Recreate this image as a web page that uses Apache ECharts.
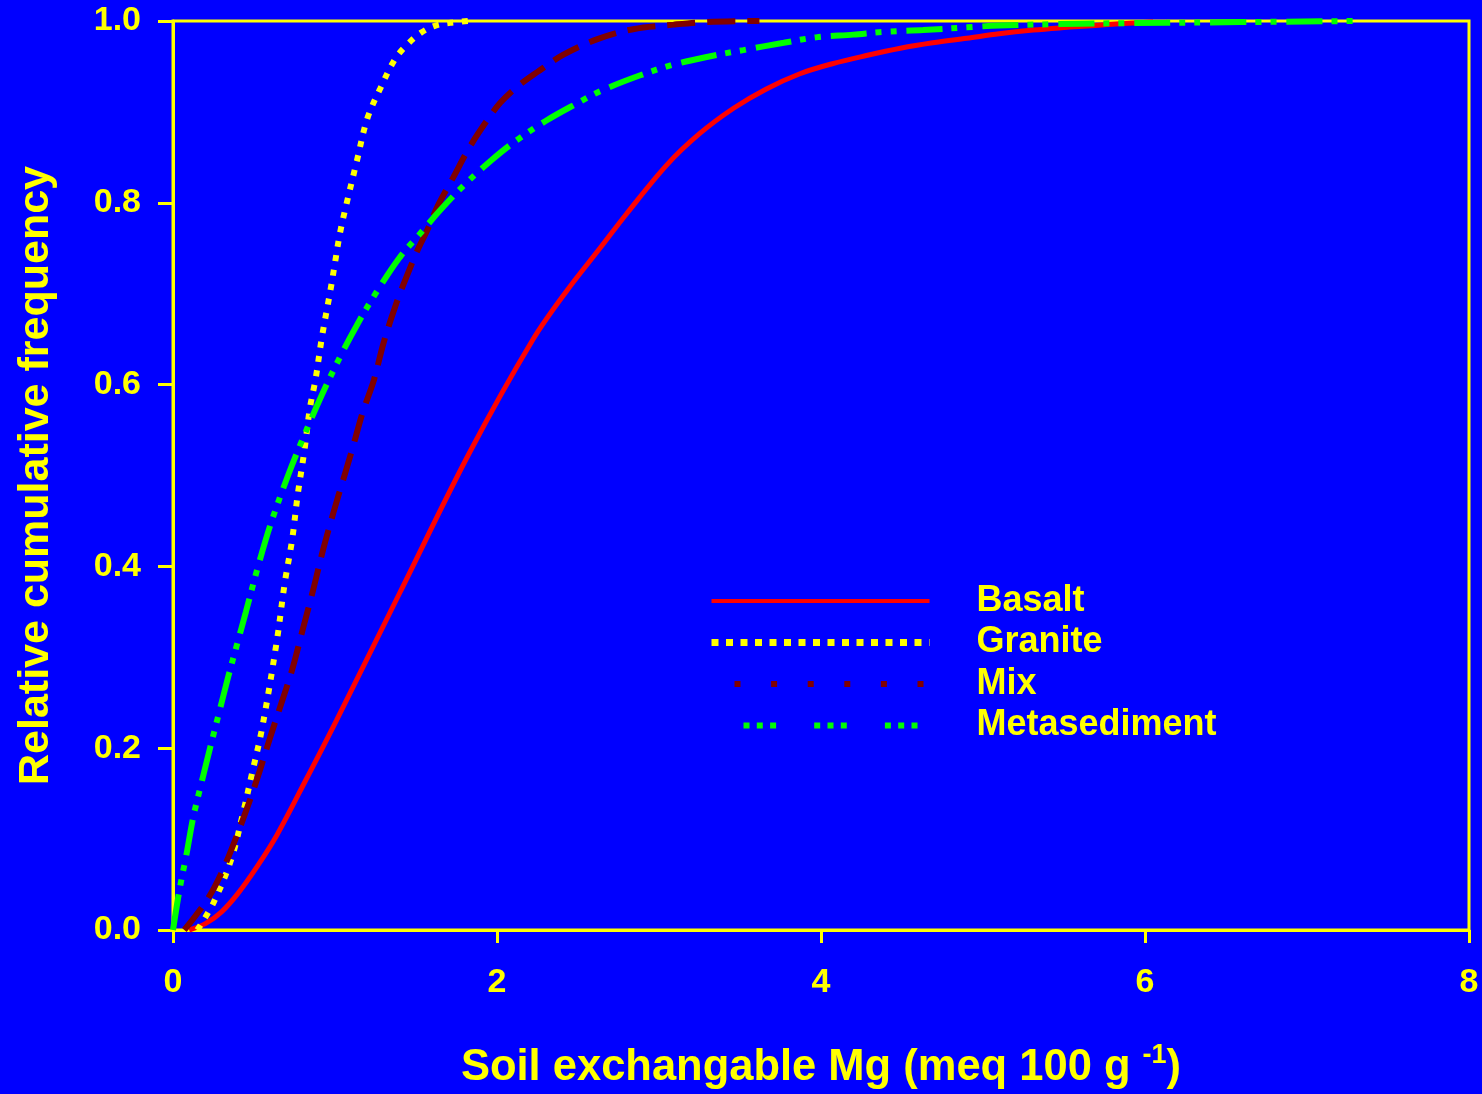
<!DOCTYPE html>
<html>
<head>
<meta charset="utf-8">
<script src="https://cdn.jsdelivr.net/npm/echarts@6/dist/echarts.min.js"></script>
<style>
html,body{margin:0;padding:0;background:#0000ff;}
#chart{width:1482px;height:1094px;}
</style>
</head>
<body>
<div id="chart"></div>
<script>
// ---- data ----
const seriesNames = ['Basalt', 'Granite', 'Mix', 'Metasediment'];

const basaltX = [0.1, 0.2, 0.3, 0.4, 0.52, 0.64, 0.82, 1.01, 1.40, 1.83, 2.22, 2.43, 2.64, 2.80, 3.05, 3.25, 3.46, 3.66, 3.87, 4.07, 4.28, 4.49, 4.69, 4.90, 5.10, 5.31, 5.52, 5.75, 6.05];
const basaltY = [0, 0.007, 0.02, 0.04, 0.07, 0.104, 0.165, 0.231, 0.371, 0.525, 0.649, 0.703, 0.751, 0.788, 0.842, 0.876, 0.904, 0.925, 0.942, 0.953, 0.962, 0.970, 0.976, 0.981, 0.986, 0.990, 0.993, 0.996, 0.999];

const graniteX = [0.15, 0.25, 0.36, 0.43, 0.49, 0.55, 0.64, 0.69, 0.735, 0.77, 0.81, 0.845, 0.88, 0.92, 0.97, 1.0, 1.03, 1.07, 1.135, 1.20, 1.28, 1.37, 1.44, 1.53, 1.62, 1.71, 1.82];
const graniteY = [0, 0.03, 0.078, 0.127, 0.174, 0.222, 0.317, 0.382, 0.429, 0.479, 0.526, 0.574, 0.606, 0.653, 0.702, 0.734, 0.766, 0.798, 0.846, 0.893, 0.926, 0.958, 0.973, 0.987, 0.995, 0.998, 1.0];

const mixX = [0.07, 0.21, 0.30, 0.39, 0.475, 0.537, 0.60, 0.67, 0.735, 0.80, 0.865, 0.926, 0.99, 1.05, 1.11, 1.17, 1.24, 1.30, 1.38, 1.44, 1.51, 1.57, 1.63, 1.73, 1.83, 1.94, 2.02, 2.12, 2.25, 2.41, 2.62, 2.84, 3.09, 3.30, 3.62];
const mixY = [0, 0.033, 0.063, 0.102, 0.143, 0.176, 0.212, 0.25, 0.286, 0.33, 0.374, 0.418, 0.459, 0.495, 0.531, 0.569, 0.605, 0.646, 0.69, 0.718, 0.748, 0.77, 0.795, 0.828, 0.861, 0.891, 0.91, 0.927, 0.944, 0.963, 0.980, 0.991, 0.996, 0.999, 1.0];

const metaX = [0, 0.04, 0.085, 0.125, 0.18, 0.23, 0.28, 0.34, 0.395, 0.45, 0.525, 0.60, 0.71, 0.80, 0.92, 1.03, 1.14, 1.25, 1.40, 1.52, 1.65, 1.80, 1.96, 2.10, 2.30, 2.50, 2.64, 2.88, 3.09, 3.31, 3.52, 3.77, 3.97, 4.20, 4.38, 4.63, 4.90, 5.10, 5.60, 6.13, 7.30];
const metaY = [0, 0.044, 0.085, 0.124, 0.165, 0.201, 0.236, 0.278, 0.314, 0.35, 0.40, 0.445, 0.50, 0.54, 0.589, 0.63, 0.667, 0.70, 0.74, 0.765, 0.792, 0.82, 0.846, 0.866, 0.89, 0.91, 0.923, 0.94, 0.952, 0.961, 0.968, 0.976, 0.982, 0.985, 0.988, 0.990, 0.993, 0.995, 0.997, 0.998, 1.0];

const xTicks = [0, 2, 4, 6, 8];
const yTicks = [0, 0.2, 0.4, 0.6, 0.8, 1.0];
const xTitle = 'Soil exchangable Mg (meq 100 g ';
const xTitleSup = '-1';
const yTitle = 'Relative cumulative frequency';

// ---- build ----
function zip(xs, ys) { return xs.map((x, i) => [x, ys[i]]); }

const YEL = '#ffff00';
const FONT = "'Liberation Sans', Arial, sans-serif";
const HIDDEN_SYMBOL = {color: 'rgba(0,0,0,0)', borderWidth: 0, opacity: 0};

const chart = echarts.init(document.getElementById('chart'), null, {renderer: 'canvas'});

const option = {
  backgroundColor: '#0000ff',
  animation: false,
  grid: {
    left: 173, top: 21, right: 13, bottom: 164,
    outerBoundsMode: 'none', containLabel: false,
    show: true, borderColor: YEL, borderWidth: 3, backgroundColor: 'transparent'
  },
  xAxis: {
    type: 'value', min: xTicks[0], max: xTicks[xTicks.length - 1], interval: xTicks[1] - xTicks[0],
    axisLine: {show: true, lineStyle: {color: YEL, width: 3}},
    axisTick: {show: true, inside: false, length: 13, lineStyle: {color: YEL, width: 3}},
    axisLabel: {color: YEL, fontSize: 34, fontWeight: 'bold', fontFamily: FONT, margin: 36},
    splitLine: {show: false},
    name: '{t|' + xTitle + '}{s|' + xTitleSup + '}{t|)}',
    nameLocation: 'middle',
    nameGap: 112,
    nameTextStyle: {
      rich: {
        t: {color: YEL, fontSize: 43.5, fontWeight: 'bold', fontFamily: FONT, lineHeight: 48, verticalAlign: 'bottom'},
        s: {color: YEL, fontSize: 27, fontWeight: 'bold', fontFamily: FONT, lineHeight: 44, verticalAlign: 'top'}
      }
    }
  },
  yAxis: {
    type: 'value', min: yTicks[0], max: yTicks[yTicks.length - 1], interval: 0.2,
    axisLine: {show: true, lineStyle: {color: YEL, width: 3}},
    axisTick: {show: true, inside: false, length: 15, lineStyle: {color: YEL, width: 3}},
    axisLabel: {color: YEL, fontSize: 34, fontWeight: 'bold', fontFamily: FONT, margin: 32,
      formatter: v => v.toFixed(1)},
    splitLine: {show: false},
    name: yTitle,
    nameLocation: 'middle',
    nameGap: 115,
    nameTextStyle: {color: YEL, fontSize: 43, fontWeight: 'bold', fontFamily: FONT}
  },
  legend: {
    orient: 'vertical',
    left: 708, top: 580,
    padding: 0,
    itemWidth: 218, itemHeight: 14, itemGap: -0.5,
    selectedMode: false,
    itemStyle: HIDDEN_SYMBOL,
    textStyle: {color: YEL, fontSize: 36, fontWeight: 'bold', fontFamily: FONT, lineHeight: 28, padding: [14, 0, 0, 42]},
    data: [
      {name: seriesNames[0], itemStyle: HIDDEN_SYMBOL, lineStyle: {color: '#ff0000', width: 4, type: 'solid'}},
      {name: seriesNames[1], itemStyle: HIDDEN_SYMBOL, lineStyle: {color: YEL, width: 7, type: [7, 7.5], dashOffset: 0, cap: 'butt'}},
      {name: seriesNames[2], itemStyle: HIDDEN_SYMBOL, lineStyle: {color: '#800000', width: 6, type: [6, 30.6], dashOffset: 13.6, cap: 'butt'}},
      {name: seriesNames[3], itemStyle: HIDDEN_SYMBOL, lineStyle: {color: '#00ff00', width: 6, type: [6, 7.3, 6, 7.3, 6, 38.1], dashOffset: 38.7, cap: 'butt'}}
    ]
  },
  series: [
    {
      name: seriesNames[0], type: 'line', data: zip(basaltX, basaltY),
      smooth: 0.35, symbol: 'none', clip: false,
      lineStyle: {color: '#ff0000', width: 5, type: 'solid'}
    },
    {
      name: seriesNames[1], type: 'line', data: zip(graniteX, graniteY),
      smooth: 0.35, symbol: 'none', clip: false,
      lineStyle: {color: YEL, width: 6, type: [6, 8.6], cap: 'butt'}
    },
    {
      name: seriesNames[2], type: 'line', data: zip(mixX, mixY),
      smooth: 0.35, symbol: 'none', clip: false,
      lineStyle: {color: '#800000', width: 6, type: [28, 12], cap: 'butt'}
    },
    {
      name: seriesNames[3], type: 'line', data: zip(metaX, metaY),
      smooth: 0.35, symbol: 'none', clip: false,
      lineStyle: {color: '#00ff00', width: 6, type: [36, 9, 6, 9, 6, 10], cap: 'butt'}
    }
  ]
};
chart.setOption(option);
</script>
</body>
</html>
